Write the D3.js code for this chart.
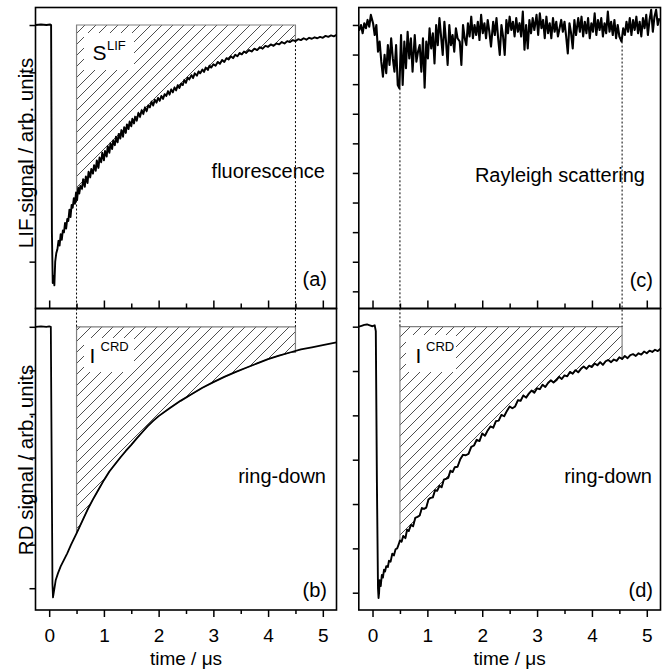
<!DOCTYPE html>
<html>
<head>
<meta charset="utf-8">
<script src="https://cdn.jsdelivr.net/npm/d3@7"></script>
<style>
  body { margin: 0; background: #fff; }
  text { font-family: "Liberation Sans", Arial, sans-serif; fill: #000; }
</style>
</head>
<body>
<div id="viz_container"></div>
<script>
// time axis (µs)
const timeDomain = [-0.25, 5.25];
const majorTicks = [0, 1, 2, 3, 4, 5];
const minorTicks = [0.5, 1.5, 2.5, 3.5, 4.5];

// integration windows (µs)
const windowLeft = [0.5, 4.5];
const windowRight = [0.5, 4.55];

// (a) LIF signal, fluorescence  [time, signal]
const lifData = [[-0.25,0.0],[-0.15,0.01],[-0.05,0.0],[0.02,0.01],[0.035,0.0],[0.05,-4.4],[0.065,-5.45],[0.08,-5.3],[0.095,-5.5],[0.11,-5.0],[0.13,-4.82],[0.15,-4.74],[0.17,-4.56],[0.19,-4.66],[0.21,-4.42],[0.23,-4.54],[0.25,-4.34],[0.27,-4.38],[0.29,-4.18],[0.31,-4.3],[0.33,-4.1],[0.35,-4.14],[0.37,-3.9],[0.39,-4.06],[0.41,-3.8],[0.43,-3.86],[0.45,-3.66],[0.47,-3.78],[0.49,-3.54],[0.51,-3.7],[0.53,-3.44],[0.55,-3.56],[0.57,-3.4],[0.6,-3.46],[0.62,-3.26],[0.65,-3.42],[0.67,-3.2],[0.7,-3.34],[0.72,-3.1],[0.75,-3.22],[0.77,-3.04],[0.8,-3.14],[0.82,-2.96],[0.85,-3.08],[0.87,-2.86],[0.9,-3.02],[0.92,-2.8],[0.95,-2.9],[0.97,-2.7],[1.0,-2.86],[1.02,-2.66],[1.05,-2.78],[1.07,-2.56],[1.1,-2.7],[1.12,-2.5],[1.15,-2.62],[1.17,-2.44],[1.2,-2.54],[1.22,-2.36],[1.25,-2.48],[1.27,-2.3],[1.3,-2.4],[1.32,-2.22],[1.35,-2.36],[1.37,-2.16],[1.4,-2.28],[1.42,-2.1],[1.45,-2.2],[1.47,-2.04],[1.5,-2.14],[1.52,-1.98],[1.55,-2.08],[1.57,-1.94],[1.6,-2.02],[1.63,-1.86],[1.66,-1.94],[1.69,-1.8],[1.72,-1.88],[1.75,-1.74],[1.78,-1.82],[1.81,-1.7],[1.84,-1.74],[1.87,-1.62],[1.9,-1.7],[1.93,-1.58],[1.96,-1.64],[1.99,-1.54],[2.02,-1.6],[2.05,-1.5],[2.08,-1.56],[2.11,-1.46],[2.14,-1.5],[2.17,-1.4],[2.2,-1.47],[2.23,-1.36],[2.26,-1.42],[2.29,-1.32],[2.32,-1.38],[2.35,-1.27],[2.38,-1.33],[2.41,-1.24],[2.44,-1.27],[2.47,-1.16],[2.5,-1.22],[2.53,-1.11],[2.56,-1.15],[2.6,-1.06],[2.63,-1.12],[2.66,-1.02],[2.7,-1.07],[2.73,-0.98],[2.76,-1.02],[2.8,-0.94],[2.83,-0.99],[2.86,-0.9],[2.9,-0.95],[2.93,-0.86],[2.96,-0.9],[3.0,-0.83],[3.04,-0.86],[3.08,-0.78],[3.12,-0.82],[3.16,-0.74],[3.2,-0.78],[3.24,-0.7],[3.28,-0.73],[3.32,-0.66],[3.36,-0.7],[3.4,-0.63],[3.44,-0.66],[3.48,-0.59],[3.52,-0.62],[3.56,-0.56],[3.6,-0.59],[3.65,-0.53],[3.7,-0.56],[3.75,-0.5],[3.8,-0.53],[3.85,-0.47],[3.9,-0.5],[3.95,-0.44],[4.0,-0.46],[4.05,-0.41],[4.1,-0.44],[4.15,-0.39],[4.2,-0.41],[4.25,-0.36],[4.3,-0.39],[4.35,-0.34],[4.4,-0.36],[4.45,-0.32],[4.5,-0.34],[4.55,-0.3],[4.6,-0.32],[4.65,-0.28],[4.7,-0.31],[4.75,-0.27],[4.8,-0.29],[4.85,-0.26],[4.9,-0.28],[4.95,-0.25],[5.0,-0.27],[5.05,-0.23],[5.1,-0.25],[5.15,-0.22],[5.2,-0.24],[5.25,-0.21]];

// (b) RD signal, ring-down (left)
const rdLeftData = [[-0.25,0.0],[-0.15,0.01],[-0.05,0.0],[0.0,0.01],[0.03,0.0],[0.045,-3.0],[0.06,-5.9],[0.07,-6.21],[0.09,-6.05],[0.12,-5.81],[0.16,-5.66],[0.21,-5.5],[0.27,-5.35],[0.33,-5.2],[0.4,-5.0],[0.5,-4.74],[0.6,-4.47],[0.7,-4.2],[0.8,-3.96],[0.9,-3.74],[1.0,-3.52],[1.1,-3.32],[1.2,-3.16],[1.3,-3.0],[1.4,-2.85],[1.5,-2.71],[1.6,-2.56],[1.7,-2.42],[1.8,-2.28],[1.9,-2.16],[2.0,-2.05],[2.2,-1.87],[2.4,-1.7],[2.6,-1.55],[2.8,-1.4],[3.0,-1.27],[3.2,-1.15],[3.4,-1.04],[3.6,-0.94],[3.8,-0.84],[4.0,-0.74],[4.2,-0.66],[4.4,-0.59],[4.6,-0.52],[4.8,-0.47],[5.0,-0.42],[5.25,-0.36]];

// (c) Rayleigh scattering
const rayleighData = [[-0.25,-0.05],[-0.24,-0.17],[-0.21,0.0],[-0.18,-0.28],[-0.15,0.06],[-0.12,-0.11],[-0.09,0.17],[-0.06,-0.06],[-0.03,0.34],[0.01,0.06],[0.04,-0.34],[0.07,0.0],[0.1,-0.9],[0.13,-0.56],[0.16,-1.24],[0.19,-1.75],[0.22,-1.01],[0.25,-1.63],[0.28,-0.68],[0.31,-1.35],[0.34,-0.45],[0.37,-1.13],[0.4,-1.58],[0.43,-0.68],[0.46,-2.03],[0.49,-2.14],[0.52,-0.34],[0.55,-2.03],[0.58,-0.56],[0.61,-1.46],[0.64,-0.23],[0.67,-1.13],[0.7,-0.45],[0.73,-1.58],[0.77,-0.34],[0.8,-1.24],[0.83,-0.9],[0.86,-0.68],[0.89,-1.58],[0.92,-0.45],[0.95,-2.12],[0.98,-0.56],[1.01,-1.13],[1.04,-0.11],[1.07,-0.79],[1.1,-0.28],[1.13,-1.3],[1.16,0.0],[1.19,-0.68],[1.22,0.23],[1.25,-0.39],[1.28,-1.01],[1.31,0.11],[1.34,-0.56],[1.37,-1.35],[1.4,0.0],[1.43,-0.68],[1.46,-0.34],[1.49,-0.9],[1.52,-0.11],[1.55,-0.45],[1.59,-0.56],[1.62,-1.35],[1.65,0.0],[1.68,-0.45],[1.71,-0.68],[1.74,0.06],[1.77,-0.39],[1.8,0.28],[1.83,-0.45],[1.86,0.0],[1.89,-0.34],[1.92,0.11],[1.95,-0.51],[1.98,0.34],[2.01,-0.28],[2.04,0.06],[2.07,-0.45],[2.1,0.17],[2.13,-0.23],[2.16,-0.73],[2.2,0.11],[2.23,-0.34],[2.26,0.23],[2.29,-0.45],[2.32,-1.01],[2.35,0.0],[2.38,-0.39],[2.41,-1.01],[2.44,0.17],[2.47,-0.28],[2.5,0.28],[2.53,-0.17],[2.56,0.11],[2.59,-0.39],[2.62,0.23],[2.65,-0.23],[2.68,0.06],[2.71,-0.39],[2.74,0.45],[2.77,-0.84],[2.8,0.0],[2.83,-0.79],[2.86,0.17],[2.89,-0.28],[2.92,0.23],[2.95,-0.17],[2.99,0.34],[3.02,-0.34],[3.05,0.39],[3.08,-0.11],[3.11,0.17],[3.14,-0.45],[3.17,0.28],[3.2,-0.28],[3.23,0.06],[3.26,-0.45],[3.29,0.23],[3.32,-0.23],[3.35,0.11],[3.38,-0.39],[3.41,-0.11],[3.44,0.17],[3.47,-0.23],[3.5,0.11],[3.53,-0.39],[3.56,-0.96],[3.59,0.06],[3.62,-0.28],[3.65,-0.79],[3.68,0.17],[3.71,-0.34],[3.75,0.23],[3.78,-0.23],[3.81,0.28],[3.84,-0.39],[3.87,0.11],[3.9,-0.28],[3.93,0.23],[3.96,-0.45],[3.99,0.06],[4.02,-0.23],[4.05,0.39],[4.08,-0.34],[4.11,0.17],[4.14,-0.17],[4.17,0.23],[4.2,-0.39],[4.23,0.06],[4.26,-0.28],[4.29,0.45],[4.32,-0.23],[4.35,0.11],[4.38,-0.34],[4.41,0.17],[4.44,-0.45],[4.47,0.0],[4.5,-0.39],[4.54,-0.56],[4.57,-0.11],[4.6,-0.34],[4.63,0.11],[4.66,-0.23],[4.69,0.23],[4.72,-0.34],[4.75,0.17],[4.78,-0.17],[4.81,0.28],[4.84,-0.28],[4.87,0.11],[4.9,-0.39],[4.93,0.23],[4.96,-0.11],[4.99,0.34],[5.02,-0.34],[5.05,0.17],[5.08,0.51],[5.11,-0.23],[5.14,0.28],[5.17,0.51],[5.2,0.0],[5.23,0.23]];

// (d) RD signal, ring-down (right)
const rdRightData = [[-0.25,0.0],[-0.2,0.02],[-0.15,0.04],[-0.1,0.05],[-0.05,0.03],[0.0,0.01],[0.04,0.03],[0.06,-0.1],[0.08,-3.5],[0.1,-5.9],[0.11,-6.12],[0.12,-6.0],[0.13,-5.72],[0.15,-5.85],[0.17,-5.6],[0.19,-5.66],[0.21,-5.48],[0.23,-5.52],[0.25,-5.4],[0.28,-5.42],[0.3,-5.28],[0.33,-5.3],[0.36,-5.12],[0.39,-5.16],[0.42,-5.02],[0.45,-5.0],[0.48,-4.9],[0.5,-4.82],[0.53,-4.85],[0.56,-4.72],[0.6,-4.77],[0.63,-4.58],[0.66,-4.61],[0.7,-4.47],[0.74,-4.5],[0.78,-4.31],[0.82,-4.29],[0.86,-4.26],[0.9,-4.09],[0.94,-4.11],[0.98,-4.08],[1.02,-3.9],[1.06,-3.86],[1.1,-3.85],[1.14,-3.69],[1.18,-3.7],[1.22,-3.59],[1.26,-3.62],[1.3,-3.45],[1.34,-3.43],[1.38,-3.41],[1.42,-3.25],[1.46,-3.28],[1.5,-3.17],[1.55,-3.16],[1.6,-2.99],[1.65,-2.89],[1.7,-2.9],[1.75,-2.87],[1.8,-2.71],[1.85,-2.68],[1.9,-2.55],[1.95,-2.58],[2.0,-2.41],[2.05,-2.46],[2.1,-2.34],[2.15,-2.25],[2.2,-2.28],[2.25,-2.13],[2.3,-2.12],[2.35,-1.99],[2.4,-2.02],[2.45,-1.9],[2.5,-1.8],[2.55,-1.84],[2.6,-1.8],[2.65,-1.66],[2.7,-1.67],[2.75,-1.55],[2.8,-1.6],[2.85,-1.51],[2.9,-1.44],[2.95,-1.49],[3.0,-1.39],[3.05,-1.41],[3.1,-1.31],[3.15,-1.36],[3.2,-1.27],[3.25,-1.21],[3.3,-1.26],[3.35,-1.21],[3.4,-1.13],[3.45,-1.18],[3.5,-1.1],[3.55,-1.12],[3.6,-1.02],[3.65,-1.06],[3.7,-0.98],[3.75,-1.03],[3.8,-0.95],[3.85,-0.9],[3.9,-0.95],[3.95,-0.88],[4.0,-0.91],[4.05,-0.83],[4.1,-0.87],[4.15,-0.8],[4.2,-0.86],[4.25,-0.78],[4.3,-0.75],[4.35,-0.8],[4.4,-0.74],[4.45,-0.77],[4.5,-0.69],[4.55,-0.73],[4.6,-0.66],[4.65,-0.71],[4.7,-0.64],[4.75,-0.62],[4.8,-0.66],[4.85,-0.6],[4.9,-0.63],[4.95,-0.56],[5.0,-0.6],[5.05,-0.54],[5.1,-0.57],[5.15,-0.52],[5.2,-0.55],[5.25,-0.5]];

// layout
const colLeft = [35.5, 336.5];
const colRight = [358.8, 660.5];
const rowTop = [7.5, 308.5];
const rowBottom = [308.5, 610];

const svg = d3.select("#viz_container")
    .append("svg")
    .attr("width", 670)
    .attr("height", 671);

// hatch pattern
const defs = svg.append("defs");
defs.append("pattern")
    .attr("id", "hatch")
    .attr("patternUnits", "userSpaceOnUse")
    .attr("width", 11)
    .attr("height", 11)
    .append("path")
    .attr("d", "M-2,2 L2,-2 M0,11 L11,0 M9,13 L13,9")
    .attr("stroke", "#222")
    .attr("stroke-width", 0.8);

const xLeft = d3.scaleLinear().domain(timeDomain).range(colLeft);
const xRight = d3.scaleLinear().domain(timeDomain).range(colRight);

const line = (x, y) => d3.line().x(d => x(d[0])).y(d => y(d[1]));

function panel(cfg) {
    const x = cfg.x;
    const y = d3.scaleLinear().domain(cfg.yDomain).range([cfg.row[1], cfg.row[0]]);
    const g = svg.append("g");
    const id = "clip_" + cfg.tag.replace(/\W/g, "");

    defs.append("clipPath").attr("id", id)
        .append("rect")
        .attr("x", x.range()[0]).attr("y", cfg.row[0])
        .attr("width", x.range()[1] - x.range()[0])
        .attr("height", cfg.row[1] - cfg.row[0]);

    // hatched integration area
    if (cfg.window) {
        const w = cfg.window;
        const inWin = cfg.data.filter(d => d[0] >= w[0] && d[0] <= w[1]);
        const pts = [[w[0], 0], [w[1], 0], [w[1], inWin[inWin.length - 1][1]]]
            .concat(inWin.slice().reverse())
            .concat([[w[0], inWin[0][1]]]);
        g.append("path")
            .attr("d", line(x, y)(pts) + "Z")
            .attr("fill", "url(#hatch)")
            .attr("stroke", "#808080")
            .attr("stroke-width", 1.2);
        g.append("rect")
            .attr("x", cfg.box[0]).attr("y", cfg.box[1])
            .attr("width", cfg.box[2]).attr("height", cfg.box[3])
            .attr("fill", "#fff");
    }

    // signal trace
    g.append("path")
        .datum(cfg.data)
        .attr("clip-path", `url(#${id})`)
        .attr("d", line(x, y))
        .attr("fill", "none")
        .attr("stroke", "#000")
        .attr("stroke-width", cfg.lw || 1.8)
        .attr("stroke-linejoin", "round");

    // y ticks (no labels)
    g.append("g")
        .attr("transform", `translate(${x.range()[0]},0)`)
        .call(d3.axisLeft(y).tickValues(cfg.yTicks).tickSize(6).tickFormat(""))
        .call(a => a.select(".domain").remove());

    // x ticks: outward with labels at the bottom, inward without labels on top panels
    const xb = cfg.row[1];
    g.append("g")
        .attr("transform", `translate(0,${xb})`)
        .call(d3.axisBottom(x).tickValues(majorTicks).tickSize(cfg.labels ? 7 : -8).tickPadding(12)
            .tickFormat(cfg.labels ? d3.format("d") : ""))
        .call(a => a.select(".domain").remove())
        .call(a => a.selectAll("text").attr("font-size", 19).attr("font-family", "Liberation Sans, Arial, sans-serif"));
    g.append("g")
        .attr("transform", `translate(0,${xb})`)
        .call(d3.axisBottom(x).tickValues(minorTicks).tickSize(cfg.labels ? 4 : -5).tickFormat(""))
        .call(a => a.select(".domain").remove());
    g.selectAll(".tick line").attr("stroke-width", 1.5);

    // frame
    g.append("rect")
        .attr("x", x.range()[0]).attr("y", cfg.row[0])
        .attr("width", x.range()[1] - x.range()[0])
        .attr("height", cfg.row[1] - cfg.row[0])
        .attr("fill", "none")
        .attr("stroke", "#000")
        .attr("stroke-width", 1.6);

    // texts
    g.append("text")
        .attr("x", cfg.name[1]).attr("y", cfg.name[2])
        .attr("text-anchor", "end")
        .attr("font-size", 20)
        .text(cfg.name[0]);
    g.append("text")
        .attr("x", cfg.tagPos[0]).attr("y", cfg.tagPos[1])
        .attr("text-anchor", "end")
        .attr("font-size", 20)
        .text(cfg.tag);
    if (cfg.symbol) {
        const s = cfg.symbol;
        g.append("text").attr("x", s.x).attr("y", s.y).attr("font-size", 21).text(s.main);
        g.append("text").attr("x", s.sx).attr("y", s.sy).attr("font-size", 13).text(s.sup);
    }
    return y;
}

const yA = panel({
    data: lifData, x: xLeft, row: rowTop, yDomain: [-5.99, 0.37], yTicks: d3.range(0, -6, -1),
    window: windowLeft, box: [84, 33, 50, 37], labels: false, lw: 1.9,
    name: ["fluorescence", 325, 178], tag: "(a)", tagPos: [327, 286],
    symbol: { main: "S", x: 92.5, y: 60, sup: "LIF", sx: 107, sy: 50 }
});
const yB = panel({
    data: rdLeftData, x: xLeft, row: rowBottom, yDomain: [-6.5, 0.42], yTicks: d3.range(0, -7, -1),
    window: windowLeft, box: [84, 338, 50, 34], labels: true,
    name: ["ring-down", 326, 483], tag: "(b)", tagPos: [327, 597],
    symbol: { main: "I", x: 89.5, y: 363, sup: "CRD", sx: 100.5, sy: 350.5 }
});
const yC = panel({
    data: rayleighData, x: xRight, row: rowTop, yDomain: [-9.58, 0.59], yTicks: d3.range(0, -10, -1),
    window: null, labels: false, lw: 2.1,
    name: ["Rayleigh scattering", 645, 182], tag: "(c)", tagPos: [653, 287]
});
const yD = panel({
    data: rdRightData, x: xRight, row: rowBottom, yDomain: [-6.39, 0.41], yTicks: d3.range(0, -7, -1),
    window: windowRight, box: [406, 335, 50, 37], labels: true, lw: 1.9,
    name: ["ring-down", 652, 483], tag: "(d)", tagPos: [653, 597],
    symbol: { main: "I", x: 415.5, y: 363, sup: "CRD", sx: 426, sy: 350.5 }
});

// dashed guides from the upper trace down to the lower integration window
function guides(x, data, yTop, yBot, win) {
    win.forEach(t => {
        const p = d3.least(data, d => Math.abs(d[0] - t));
        svg.append("line")
            .attr("x1", x(t)).attr("x2", x(t))
            .attr("y1", yTop(p[1])).attr("y2", yBot(0))
            .attr("stroke", "#000")
            .attr("stroke-width", 1)
            .attr("stroke-dasharray", "2,2");
    });
}
guides(xLeft, lifData, yA, yB, windowLeft);
guides(xRight, rayleighData, yC, yD, windowRight);

// axis titles
svg.append("text")
    .attr("transform", "translate(33,153) rotate(-90)")
    .attr("text-anchor", "middle").attr("font-size", 20.5)
    .text("LIF signal / arb. units");
svg.append("text")
    .attr("transform", "translate(33,460) rotate(-90)")
    .attr("text-anchor", "middle").attr("font-size", 20.5)
    .text("RD signal / arb. units");
[colLeft, colRight].forEach(c => {
    svg.append("text")
        .attr("x", (c[0] + c[1]) / 2).attr("y", 665)
        .attr("text-anchor", "middle").attr("font-size", 19)
        .text("time / \u03bcs");
});
</script>
</body>
</html>
